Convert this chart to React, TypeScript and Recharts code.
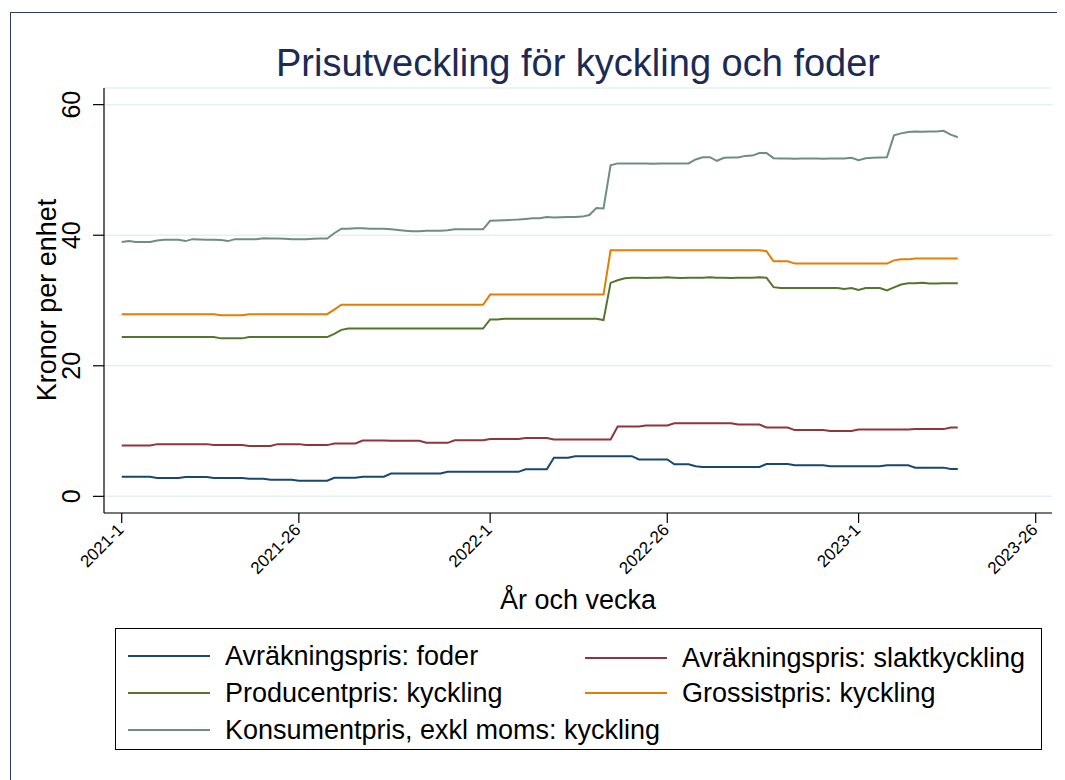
import React from 'react';
import { LineChart, Line, XAxis, YAxis, CartesianGrid } from 'recharts';

// veckoindex 0 = 2021-1, sista punkten = 2023-15
const weekIndex: number[] = Array.from({ length: 119 }, (_, i) => i);

const tickWeeks = [0, 25, 52, 77, 104, 129];
const tickLabels = ['2021-1', '2021-26', '2022-1', '2022-26', '2023-1', '2023-26'];
const yTicks = [0, 20, 40, 60];

const foder = [
  3.0, 3.0, 3.0, 3.0, 3.0, 2.8, 2.8, 2.8, 2.8, 2.95,
  2.95, 2.95, 2.95, 2.8, 2.8, 2.8, 2.8, 2.8, 2.7, 2.7,
  2.7, 2.55, 2.55, 2.55, 2.55, 2.4, 2.4, 2.4, 2.4, 2.4,
  2.85, 2.85, 2.85, 2.85, 3.0, 3.0, 3.0, 3.0, 3.5, 3.5,
  3.5, 3.5, 3.5, 3.5, 3.5, 3.5, 3.75, 3.75, 3.75, 3.75,
  3.75, 3.75, 3.75, 3.75, 3.75, 3.75, 3.75, 4.15, 4.15, 4.15,
  4.15, 5.9, 5.9, 5.9, 6.15, 6.15, 6.15, 6.15, 6.15, 6.15,
  6.15, 6.15, 6.15, 5.65, 5.65, 5.65, 5.65, 5.65, 4.9, 4.9,
  4.9, 4.6, 4.5, 4.5, 4.5, 4.5, 4.5, 4.5, 4.5, 4.5,
  4.5, 4.95, 4.95, 4.95, 4.95, 4.75, 4.75, 4.75, 4.75, 4.75,
  4.6, 4.6, 4.6, 4.6, 4.6, 4.6, 4.6, 4.6, 4.75, 4.75,
  4.75, 4.75, 4.4, 4.4, 4.4, 4.4, 4.4, 4.2, 4.2,
];

const slakt = [
  7.8, 7.8, 7.8, 7.8, 7.8, 8.0, 8.0, 8.0, 8.0, 8.0,
  8.0, 8.0, 8.0, 7.85, 7.85, 7.85, 7.85, 7.85, 7.7, 7.7,
  7.7, 7.7, 8.0, 8.0, 8.0, 8.0, 7.85, 7.85, 7.85, 7.85,
  8.1, 8.1, 8.1, 8.1, 8.55, 8.55, 8.55, 8.55, 8.5, 8.5,
  8.5, 8.5, 8.5, 8.2, 8.2, 8.2, 8.2, 8.6, 8.6, 8.6,
  8.6, 8.6, 8.8, 8.8, 8.8, 8.8, 8.8, 8.95, 8.95, 8.95,
  8.95, 8.7, 8.7, 8.7, 8.7, 8.7, 8.7, 8.7, 8.7, 8.7,
  10.7, 10.7, 10.7, 10.7, 10.85, 10.85, 10.85, 10.85, 11.2, 11.2,
  11.2, 11.2, 11.2, 11.2, 11.2, 11.2, 11.2, 11.0, 11.0, 11.0,
  11.0, 10.55, 10.55, 10.55, 10.55, 10.15, 10.15, 10.15, 10.15, 10.15,
  10.0, 10.0, 10.0, 10.0, 10.25, 10.25, 10.25, 10.25, 10.25, 10.25,
  10.25, 10.25, 10.3, 10.3, 10.3, 10.3, 10.3, 10.55, 10.55,
];

const producent = [
  24.4, 24.4, 24.4, 24.4, 24.4, 24.4, 24.4, 24.4, 24.4, 24.4,
  24.4, 24.4, 24.4, 24.4, 24.2, 24.2, 24.2, 24.2, 24.4, 24.4,
  24.4, 24.4, 24.4, 24.4, 24.4, 24.4, 24.4, 24.4, 24.4, 24.4,
  24.9, 25.5, 25.7, 25.7, 25.7, 25.7, 25.7, 25.7, 25.7, 25.7,
  25.7, 25.7, 25.7, 25.7, 25.7, 25.7, 25.7, 25.7, 25.7, 25.7,
  25.7, 25.7, 27.1, 27.1, 27.2, 27.2, 27.2, 27.2, 27.2, 27.2,
  27.2, 27.2, 27.2, 27.2, 27.2, 27.2, 27.2, 27.2, 27.0, 32.7,
  33.1, 33.4, 33.5, 33.5, 33.45, 33.5, 33.5, 33.55, 33.5, 33.45,
  33.5, 33.5, 33.5, 33.55, 33.5, 33.5, 33.45, 33.5, 33.5, 33.5,
  33.55, 33.5, 32.05, 31.9, 31.9, 31.9, 31.9, 31.9, 31.9, 31.9,
  31.9, 31.9, 31.75, 31.9, 31.6, 31.9, 31.9, 31.9, 31.55, 32.0,
  32.45, 32.65, 32.65, 32.7, 32.6, 32.6, 32.65, 32.65, 32.65,
];

const grossist = [
  27.9, 27.9, 27.9, 27.9, 27.9, 27.9, 27.9, 27.9, 27.9, 27.9,
  27.9, 27.9, 27.9, 27.9, 27.75, 27.75, 27.75, 27.75, 27.9, 27.9,
  27.9, 27.9, 27.9, 27.9, 27.9, 27.9, 27.9, 27.9, 27.9, 27.9,
  28.6, 29.35, 29.35, 29.35, 29.35, 29.35, 29.35, 29.35, 29.35, 29.35,
  29.35, 29.35, 29.35, 29.35, 29.35, 29.35, 29.35, 29.35, 29.35, 29.35,
  29.35, 29.35, 30.9, 30.9, 30.9, 30.9, 30.9, 30.9, 30.9, 30.9,
  30.9, 30.9, 30.9, 30.9, 30.9, 30.9, 30.9, 30.9, 30.9, 37.7,
  37.7, 37.7, 37.7, 37.7, 37.7, 37.7, 37.7, 37.7, 37.7, 37.7,
  37.7, 37.7, 37.7, 37.7, 37.7, 37.7, 37.7, 37.7, 37.7, 37.7,
  37.7, 37.55, 36.0, 36.0, 36.0, 35.65, 35.65, 35.65, 35.65, 35.65,
  35.65, 35.65, 35.65, 35.65, 35.65, 35.65, 35.65, 35.65, 35.65, 36.15,
  36.3, 36.3, 36.45, 36.45, 36.45, 36.45, 36.45, 36.45, 36.45,
];

const konsument = [
  38.95, 39.1, 38.95, 38.95, 38.95, 39.2, 39.3, 39.3, 39.3, 39.1,
  39.4, 39.35, 39.3, 39.3, 39.25, 39.1, 39.4, 39.4, 39.4, 39.4,
  39.55, 39.5, 39.5, 39.45, 39.4, 39.4, 39.4, 39.45, 39.5, 39.5,
  40.3, 41.0, 41.0, 41.05, 41.05, 41.0, 41.0, 41.0, 40.9, 40.8,
  40.7, 40.6, 40.6, 40.7, 40.7, 40.7, 40.75, 40.9, 40.9, 40.9,
  40.9, 40.9, 42.2, 42.25, 42.3, 42.35, 42.4, 42.5, 42.6, 42.6,
  42.8, 42.7, 42.75, 42.8, 42.8, 42.85, 43.1, 44.15, 44.1, 50.7,
  51.0, 51.0, 51.0, 51.0, 51.0, 50.95, 51.0, 51.0, 51.0, 51.0,
  51.0, 51.6, 51.95, 51.95, 51.4, 51.85, 51.9, 51.9, 52.15, 52.2,
  52.6, 52.6, 51.8, 51.75, 51.75, 51.7, 51.75, 51.75, 51.75, 51.7,
  51.75, 51.75, 51.75, 51.85, 51.5, 51.8, 51.85, 51.9, 51.95, 55.3,
  55.6, 55.8, 55.9, 55.85, 55.9, 55.9, 56.0, 55.4, 55.0,
];

const series = [
  { key: 'foder', name: 'Avräkningspris: foder', color: '#1a476f' },
  { key: 'slakt', name: 'Avräkningspris: slaktkyckling', color: '#90353b' },
  { key: 'producent', name: 'Producentpris: kyckling', color: '#55752f' },
  { key: 'grossist', name: 'Grossistpris: kyckling', color: '#e37e00' },
  { key: 'konsument', name: 'Konsumentpris, exkl moms: kyckling', color: '#6e8e84' },
];

const data = weekIndex.map((w, i) => ({
  week: w,
  foder: foder[i],
  slakt: slakt[i],
  producent: producent[i],
  grossist: grossist[i],
  konsument: konsument[i],
}));

const FONT = '"Liberation Sans", Arial, sans-serif';

const XTick = (props: any) => {
  const { x, y, payload } = props;
  const idx = tickWeeks.indexOf(payload.value);
  const ax = x - 1;
  const ay = y + 2;
  return (
    <text
      x={ax}
      y={ay}
      textAnchor="end"
      dominantBaseline="central"
      fontSize={17}
      fontFamily={FONT}
      fill="#000"
      transform={`rotate(-45, ${ax}, ${ay})`}
    >
      {idx >= 0 ? tickLabels[idx] : ''}
    </text>
  );
};

const YTick = (props: any) => {
  const { x, y, payload } = props;
  const ax = x - 11;
  return (
    <text
      x={ax}
      y={y}
      textAnchor="middle"
      fontSize={25}
      fontFamily={FONT}
      fill="#000"
      transform={`rotate(-90, ${ax}, ${y})`}
    >
      {payload.value}
    </text>
  );
};

const XTitle = () => (
  <text x={570} y={601} textAnchor="middle" fontSize={27} fontFamily={FONT} fill="#000">
    År och vecka
  </text>
);

const YTitle = () => (
  <text
    x={48}
    y={292}
    textAnchor="middle"
    fontSize={27}
    fontFamily={FONT}
    fill="#000"
    transform="rotate(-90, 48, 292)"
  >
    Kronor per enhet
  </text>
);

const legendRows = [
  [series[0], series[1]],
  [series[2], series[3]],
  [series[4]],
];

export default function App() {
  return (
    <div style={{ position: 'relative', width: 1057, height: 772, overflow: 'hidden', fontFamily: FONT, background: '#fff' }}>
      <div
        style={{
          position: 'absolute',
          left: 2,
          top: 4,
          width: 1054,
          height: 800,
          boxSizing: 'border-box',
          border: '1px solid #2c3b66',
        }}
      />
      <div
        style={{
          position: 'absolute',
          left: 96,
          width: 948,
          top: 36,
          textAlign: 'center',
          fontSize: 38,
          lineHeight: '38px',
          color: '#1c2a56',
        }}
      >
        Prisutveckling för kyckling och foder
      </div>
      <div style={{ position: 'absolute', left: 0, top: 0 }}>
        <LineChart width={1057} height={772} data={data} margin={{ top: 80, right: 13, bottom: 187, left: 36 }}>
          <CartesianGrid horizontal vertical={false} stroke="#e6eff1" strokeWidth={1.5} />
          <XAxis
            dataKey="week"
            type="number"
            domain={[-2.5, 131.3]}
            ticks={tickWeeks}
            allowDataOverflow
            height={80}
            tickSize={10}
            tickMargin={2}
            tick={<XTick />}
            axisLine={{ stroke: '#000', strokeWidth: 1.2 }}
            tickLine={{ stroke: '#000', strokeWidth: 1.2 }}
            label={{ content: XTitle }}
          />
          <YAxis
            type="number"
            domain={[-2.55, 62.55]}
            ticks={yTicks}
            allowDataOverflow
            width={60}
            tickSize={11}
            tickMargin={2}
            tick={<YTick />}
            axisLine={{ stroke: '#000', strokeWidth: 1.2 }}
            tickLine={{ stroke: '#000', strokeWidth: 1.2 }}
            label={{ content: YTitle }}
          />
          {series.map((s) => (
            <Line
              key={s.key}
              type="linear"
              dataKey={s.key}
              name={s.name}
              stroke={s.color}
              strokeWidth={2}
              dot={false}
              isAnimationActive={false}
            />
          ))}
        </LineChart>
      </div>
      <div
        style={{
          position: 'absolute',
          left: 107,
          top: 620,
          width: 927,
          height: 122,
          boxSizing: 'border-box',
          border: '1px solid #000',
        }}
      >
        {legendRows.map((row, r) =>
          row.map((s, c) => (
            <div
              key={s.key}
              style={{
                position: 'absolute',
                left: c === 0 ? 12 : 469,
                top: 12 + r * 37 + (r === 0 && c === 1 ? 2 : 0),
                height: 30,
                display: 'flex',
                alignItems: 'center',
                whiteSpace: 'nowrap',
              }}
            >
              <div style={{ width: 82, height: 0, borderTop: `2px solid ${s.color}` }} />
              <span style={{ marginLeft: 15, fontSize: 27, color: '#000' }}>{s.name}</span>
            </div>
          ))
        )}
      </div>
    </div>
  );
}
